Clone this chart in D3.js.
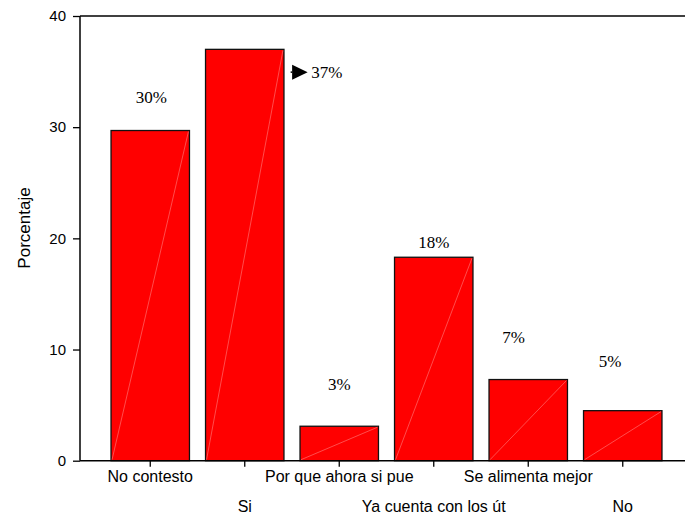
<!DOCTYPE html>
<html><head><meta charset="utf-8">
<script src="https://cdn.jsdelivr.net/npm/d3@7"></script>
<style>body{margin:0;background:#fff}svg{display:block}</style>
</head><body>
<svg id="c" width="685" height="517"></svg>
<script>
const categories = ["No contesto","Si","Por que ahora si pue","Ya cuenta con los út","Se alimenta mejor","No"];
const values = [29.7, 37.0, 3.1, 18.3, 7.3, 4.5];
const yTicks = [0, 10, 20, 30, 40];
// annotation anchor (value units) and horizontal offset from tick for each % label
const labelY = [32.7, 34.95, 6.9, 19.7, 11.15, 9.0];
const labelDx = [1, 0, 0, 0, -14.7, -12.7];

const svg = d3.select("#c");
const y = d3.scaleLinear().domain([0, 40]).range([460.7, 16]);
const x = d3.scaleBand().domain(categories).range([103, 670]).paddingInner(0.17).paddingOuter(0.085);

// bars
const g = svg.append("g");
g.selectAll("rect.bar").data(values).join("rect")
  .attr("x", (d,i) => x(categories[i]))
  .attr("y", d => y(d))
  .attr("width", x.bandwidth())
  .attr("height", d => y(0) - y(d))
  .attr("fill", "#ff0000")
  .attr("stroke", "#111")
  .attr("stroke-width", 1.3);
g.selectAll("line.diag").data(values).join("line")
  .attr("x1", (d,i) => x(categories[i]) + 1)
  .attr("y1", y(0) - 1)
  .attr("x2", (d,i) => x(categories[i]) + x.bandwidth() - 1)
  .attr("y2", d => y(d) + 1)
  .attr("stroke", "#ff8080")
  .attr("stroke-width", 0.6);

// axes
const yAxis = svg.append("g").attr("transform", "translate(80,0)")
  .call(d3.axisLeft(y).tickValues(yTicks).tickSize(7).tickPadding(7).tickFormat(d3.format("d")));
yAxis.select(".domain").attr("stroke", "#000").attr("stroke-width", 1.5).attr("d", `M0,${y(40)}V${y(0)}`);
yAxis.selectAll(".tick line").attr("stroke", "#000").attr("stroke-width", 1.3);
yAxis.selectAll(".tick text").attr("font-family", "Liberation Sans, Arial, sans-serif").attr("font-size", 15).attr("fill", "#000");

const xAxis = svg.append("g").attr("transform", `translate(0,${y(0)})`)
  .call(d3.axisBottom(x).tickSize(6).tickSizeOuter(0));
xAxis.select(".domain").attr("stroke", "#000").attr("stroke-width", 1.5).attr("d", `M80,0H685`);
xAxis.selectAll(".tick line").attr("stroke", "#000").attr("stroke-width", 1.3);
xAxis.selectAll(".tick text")
  .attr("font-family", "Liberation Sans, Arial, sans-serif").attr("font-size", 16).attr("fill", "#000")
  .attr("y", (d,i) => i % 2 === 0 ? 10 : 40);

// top frame line
svg.append("line").attr("x1", 80).attr("x2", 685).attr("y1", y(40)).attr("y2", y(40))
  .attr("stroke", "#000").attr("stroke-width", 1.5);

// y title
svg.append("text").attr("transform", "translate(30,228) rotate(-90)")
  .attr("text-anchor", "middle")
  .attr("font-family", "Liberation Sans, Arial, sans-serif").attr("font-size", 17)
  .text("Porcentaje");

// value labels
const cx = i => x(categories[i]) + x.bandwidth() / 2;
svg.selectAll("text.val").data(values).join("text")
  .attr("class", "val")
  .attr("x", (d,i) => i === 1 ? cx(i) + 66.4 : cx(i) + labelDx[i])
  .attr("y", (d,i) => y(labelY[i]))
  .attr("dy", "0.35em")
  .attr("text-anchor", (d,i) => i === 1 ? "start" : "middle")
  .attr("font-family", "Liberation Serif, Times New Roman, serif").attr("font-size", 17)
  .attr("fill", "#000")
  .text(d => Math.round(d) + "%");

// arrow marker next to the 37% label
const ax = cx(1) + 47.4, ay = y(labelY[1]);
svg.append("path").attr("d", `M${ax},${ay-7.5}L${ax+15.5},${ay}L${ax},${ay+7.5}Z`).attr("fill", "#000");
svg.append("line").attr("x1", ax-1.5).attr("x2", ax).attr("y1", ay).attr("y2", ay).attr("stroke", "#000").attr("stroke-width", 1.5);
</script>
</body></html>
